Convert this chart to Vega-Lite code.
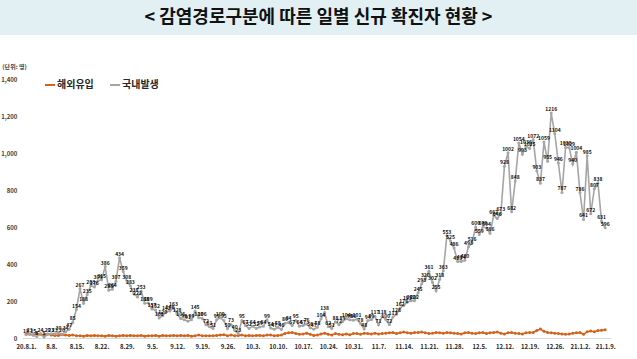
{
  "$schema": "https://vega.github.io/schema/vega-lite/v6.json",
  "padding": 0,
  "background": "white",
  "spacing": 28,
  "center": true,
  "config": {"view": {"stroke": null}, "font": "Noto Sans CJK KR"},
  "vconcat": [
    {
      "width": 637,
      "height": 35,
      "view": {"fill": "#E2F0F3", "stroke": null},
      "data": {"values": [{"t": "< 감염경로구분에 따른 일별 신규 확진자 현황 >"}]},
      "mark": {"type": "text", "fontSize": 18, "fontWeight": "bold", "font": "Noto Sans CJK KR", "color": "#111111", "baseline": "middle", "align": "center"},
      "encoding": {"text": {"field": "t", "type": "nominal"}}
    },
    {
      "width": 589,
      "height": 259,
      "data": {"values": [
        {"date": "2020-08-01", "해외유입": 22, "국내발생": 18},
        {"date": "2020-08-02", "해외유입": 20, "국내발생": 23},
        {"date": "2020-08-03", "해외유입": 18, "국내발생": 15},
        {"date": "2020-08-04", "해외유입": 24, "국내발생": 8},
        {"date": "2020-08-05", "해외유입": 20, "국내발생": 24},
        {"date": "2020-08-06", "해외유입": 18, "국내발생": 5},
        {"date": "2020-08-07", "해외유입": 22, "국내발생": 20},
        {"date": "2020-08-08", "해외유입": 16, "국내발생": 23},
        {"date": "2020-08-09", "해외유입": 14, "국내발생": 23},
        {"date": "2020-08-10", "해외유입": 14, "국내발생": 30},
        {"date": "2020-08-11", "해외유입": 18, "국내발생": 20},
        {"date": "2020-08-12", "해외유입": 16, "국내발생": 34},
        {"date": "2020-08-13", "해외유입": 14, "국내발생": 47},
        {"date": "2020-08-14", "해외유입": 16, "국내발생": 85},
        {"date": "2020-08-15", "해외유입": 12, "국내발생": 154},
        {"date": "2020-08-16", "해외유입": 12, "국내발생": 267},
        {"date": "2020-08-17", "해외유입": 10, "국내발생": 188},
        {"date": "2020-08-18", "해외유입": 14, "국내발생": 235},
        {"date": "2020-08-19", "해외유입": 12, "국내발생": 283},
        {"date": "2020-08-20", "해외유입": 14, "국내발생": 276},
        {"date": "2020-08-21", "해외유입": 12, "국내발생": 309},
        {"date": "2020-08-22", "해외유입": 12, "국내발생": 315},
        {"date": "2020-08-23", "해외유입": 10, "국내발생": 386},
        {"date": "2020-08-24", "해외유입": 14, "국내발생": 258},
        {"date": "2020-08-25", "해외유입": 12, "국내발생": 264},
        {"date": "2020-08-26", "해외유입": 10, "국내발생": 307},
        {"date": "2020-08-27", "해외유입": 12, "국내발생": 434},
        {"date": "2020-08-28", "해외유입": 14, "국내발생": 359},
        {"date": "2020-08-29", "해외유입": 12, "국내발생": 308},
        {"date": "2020-08-30", "해외유입": 14, "국내발생": 283},
        {"date": "2020-08-31", "해외유입": 12, "국내발생": 238},
        {"date": "2020-09-01", "해외유입": 12, "국내발생": 222},
        {"date": "2020-09-02", "해외유입": 14, "국내발생": 253},
        {"date": "2020-09-03", "해외유입": 10, "국내발생": 188},
        {"date": "2020-09-04", "해외유입": 12, "국내발생": 189},
        {"date": "2020-09-05", "해외유입": 12, "국내발생": 157},
        {"date": "2020-09-06", "해외유입": 14, "국내발생": 152},
        {"date": "2020-09-07", "해외유입": 10, "국내발생": 108},
        {"date": "2020-09-08", "해외유입": 14, "국내발생": 120},
        {"date": "2020-09-09", "해외유입": 12, "국내발생": 142},
        {"date": "2020-09-10", "해외유입": 12, "국내발생": 146},
        {"date": "2020-09-11", "해외유입": 14, "국내발생": 163},
        {"date": "2020-09-12", "해외유입": 12, "국내발생": 128},
        {"date": "2020-09-13", "해외유입": 14, "국내발생": 106},
        {"date": "2020-09-14", "해외유입": 12, "국내발생": 98},
        {"date": "2020-09-15", "해외유입": 14, "국내발생": 91},
        {"date": "2020-09-16", "해외유입": 10, "국내발생": 99},
        {"date": "2020-09-17", "해외유입": 12, "국내발생": 145},
        {"date": "2020-09-18", "해외유입": 16, "국내발생": 110},
        {"date": "2020-09-19", "해외유입": 12, "국내발생": 106},
        {"date": "2020-09-20", "해외유입": 12, "국내발생": 72},
        {"date": "2020-09-21", "해외유입": 12, "국내발생": 61},
        {"date": "2020-09-22", "해외유입": 12, "국내발생": 51},
        {"date": "2020-09-23", "해외유입": 14, "국내발생": 99},
        {"date": "2020-09-24", "해외유입": 16, "국내발생": 109},
        {"date": "2020-09-25", "해외유입": 18, "국내발생": 95},
        {"date": "2020-09-26", "해외유입": 12, "국내발생": 50},
        {"date": "2020-09-27", "해외유입": 16, "국내발생": 73},
        {"date": "2020-09-28", "해외유입": 12, "국내발생": 40},
        {"date": "2020-09-29", "해외유입": 14, "국내발생": 23},
        {"date": "2020-09-30", "해외유입": 16, "국내발생": 95},
        {"date": "2020-10-01", "해외유입": 12, "국내발생": 67},
        {"date": "2020-10-02", "해외유입": 14, "국내발생": 52},
        {"date": "2020-10-03", "해외유입": 12, "국내발생": 64},
        {"date": "2020-10-04", "해외유입": 14, "국내발생": 52},
        {"date": "2020-10-05", "해외유입": 14, "국내발생": 59},
        {"date": "2020-10-06", "해외유입": 12, "국내발생": 64},
        {"date": "2020-10-07", "해외유입": 16, "국내발생": 99},
        {"date": "2020-10-08", "해외유입": 16, "국내발생": 54},
        {"date": "2020-10-09", "해외유입": 12, "국내발생": 47},
        {"date": "2020-10-10", "해외유입": 14, "국내발생": 58},
        {"date": "2020-10-11", "해외유입": 16, "국내발생": 46},
        {"date": "2020-10-12", "해외유입": 24, "국내발생": 80},
        {"date": "2020-10-13", "해외유입": 28, "국내발생": 84},
        {"date": "2020-10-14", "해외유입": 30, "국내발생": 67},
        {"date": "2020-10-15", "해외유입": 24, "국내발생": 95},
        {"date": "2020-10-16", "해외유입": 20, "국내발생": 64},
        {"date": "2020-10-17", "해외유입": 22, "국내발생": 67},
        {"date": "2020-10-18", "해외유입": 26, "국내발생": 76},
        {"date": "2020-10-19", "해외유입": 20, "국내발생": 56},
        {"date": "2020-10-20", "해외유입": 14, "국내발생": 47},
        {"date": "2020-10-21", "해외유입": 16, "국내발생": 58},
        {"date": "2020-10-22", "해외유입": 22, "국내발생": 104},
        {"date": "2020-10-23", "해외유입": 26, "국내발생": 138},
        {"date": "2020-10-24", "해외유입": 20, "국내발생": 62},
        {"date": "2020-10-25", "해외유입": 16, "국내발생": 51},
        {"date": "2020-10-26", "해외유입": 24, "국내발생": 88},
        {"date": "2020-10-27", "해외유입": 20, "국내발생": 72},
        {"date": "2020-10-28", "해외유입": 18, "국내발생": 89},
        {"date": "2020-10-29", "해외유입": 22, "국내발생": 104},
        {"date": "2020-10-30", "해외유입": 18, "국내발생": 98},
        {"date": "2020-10-31", "해외유입": 24, "국내발생": 96},
        {"date": "2020-11-01", "해외유입": 24, "국내발생": 101},
        {"date": "2020-11-02", "해외유입": 20, "국내발생": 78},
        {"date": "2020-11-03", "해외유입": 26, "국내발생": 48},
        {"date": "2020-11-04", "해외유입": 24, "국내발생": 94},
        {"date": "2020-11-05", "해외유입": 22, "국내발생": 99},
        {"date": "2020-11-06", "해외유입": 26, "국내발생": 117},
        {"date": "2020-11-07", "해외유입": 22, "국내발생": 71},
        {"date": "2020-11-08", "해외유입": 24, "국내발생": 118},
        {"date": "2020-11-09", "해외유입": 26, "국내발생": 100},
        {"date": "2020-11-10", "해외유입": 28, "국내발생": 72},
        {"date": "2020-11-11", "해외유입": 30, "국내발생": 113},
        {"date": "2020-11-12", "해외유입": 24, "국내발생": 128},
        {"date": "2020-11-13", "해외유입": 28, "국내발생": 162},
        {"date": "2020-11-14", "해외유입": 32, "국내발생": 176},
        {"date": "2020-11-15", "해외유입": 28, "국내발생": 193},
        {"date": "2020-11-16", "해외유입": 26, "국내발생": 202},
        {"date": "2020-11-17", "해외유입": 30, "국내발생": 202},
        {"date": "2020-11-18", "해외유입": 30, "국내발생": 245},
        {"date": "2020-11-19", "해외유입": 32, "국내발생": 293},
        {"date": "2020-11-20", "해외유입": 28, "국내발생": 320},
        {"date": "2020-11-21", "해외유입": 24, "국내발생": 361},
        {"date": "2020-11-22", "해외유입": 26, "국내발생": 302},
        {"date": "2020-11-23", "해외유입": 30, "국내발생": 255},
        {"date": "2020-11-24", "해외유입": 28, "국내발생": 318},
        {"date": "2020-11-25", "해외유입": 26, "국내발생": 363},
        {"date": "2020-11-26", "해외유입": 30, "국내발생": 553},
        {"date": "2020-11-27", "해외유입": 28, "국내발생": 525},
        {"date": "2020-11-28", "해외유입": 26, "국내발생": 486},
        {"date": "2020-11-29", "해외유입": 24, "국내발생": 413},
        {"date": "2020-11-30", "해외유입": 22, "국내발생": 414},
        {"date": "2020-12-01", "해외유입": 28, "국내발생": 420},
        {"date": "2020-12-02", "해외유입": 30, "국내발생": 493},
        {"date": "2020-12-03", "해외유입": 26, "국내발생": 516},
        {"date": "2020-12-04", "해외유입": 24, "국내발생": 600},
        {"date": "2020-12-05", "해외유입": 28, "국내발생": 559},
        {"date": "2020-12-06", "해외유입": 30, "국내발생": 600},
        {"date": "2020-12-07", "해외유입": 24, "국내발생": 594},
        {"date": "2020-12-08", "해외유입": 28, "국내발생": 566},
        {"date": "2020-12-09", "해외유입": 30, "국내발생": 662},
        {"date": "2020-12-10", "해외유입": 32, "국내발생": 646},
        {"date": "2020-12-11", "해외유입": 26, "국내발생": 673},
        {"date": "2020-12-12", "해외유입": 22, "국내발생": 928},
        {"date": "2020-12-13", "해외유입": 28, "국내발생": 1002},
        {"date": "2020-12-14", "해외유입": 30, "국내발생": 682},
        {"date": "2020-12-15", "해외유입": 26, "국내발생": 848},
        {"date": "2020-12-16", "해외유입": 24, "국내발생": 1054},
        {"date": "2020-12-17", "해외유입": 22, "국내발생": 993},
        {"date": "2020-12-18", "해외유입": 28, "국내발생": 1036},
        {"date": "2020-12-19", "해외유입": 30, "국내발생": 1025},
        {"date": "2020-12-20", "해외유입": 30, "국내발생": 1072},
        {"date": "2020-12-21", "해외유입": 40, "국내발생": 903},
        {"date": "2020-12-22", "해외유입": 48, "국내발생": 837},
        {"date": "2020-12-23", "해외유입": 36, "국내발생": 1059},
        {"date": "2020-12-24", "해외유입": 30, "국내발생": 955},
        {"date": "2020-12-25", "해외유입": 28, "국내발생": 1216},
        {"date": "2020-12-26", "해외유입": 26, "국내발생": 1104},
        {"date": "2020-12-27", "해외유입": 24, "국내발생": 946},
        {"date": "2020-12-28", "해외유입": 22, "국내발생": 787},
        {"date": "2020-12-29", "해외유입": 20, "국내발생": 1030},
        {"date": "2020-12-30", "해외유입": 22, "국내발생": 1029},
        {"date": "2020-12-31", "해외유입": 26, "국내발생": 940},
        {"date": "2021-01-01", "해외유입": 28, "국내발생": 1004},
        {"date": "2021-01-02", "해외유입": 30, "국내발생": 786},
        {"date": "2021-01-03", "해외유입": 20, "국내발생": 641},
        {"date": "2021-01-04", "해외유입": 34, "국내발생": 985},
        {"date": "2021-01-05", "해외유입": 38, "국내발생": 672},
        {"date": "2021-01-06", "해외유입": 34, "국내발생": 807},
        {"date": "2021-01-07", "해외유입": 40, "국내발생": 838},
        {"date": "2021-01-08", "해외유입": 42, "국내발생": 631},
        {"date": "2021-01-09", "해외유입": 45, "국내발생": 596}
      ]},
      "transform": [{"fold": ["해외유입", "국내발생"], "as": ["key", "value"]}],
      "encoding": {
        "x": {
          "field": "date",
          "type": "temporal",
          "scale": {"type": "utc", "domain": [
            {"year": 2020, "month": 7, "date": 30, "hours": 20, "utc": true},
            {"year": 2021, "month": 1, "date": 10, "hours": 14, "utc": true}
          ]},
          "axis": {
            "title": null,
            "grid": false,
            "ticks": false,
            "domain": true,
            "domainColor": "#D9D9D9",
            "labelPadding": 5,
            "labelFontSize": 6,
            "labelFontWeight": "bold",
            "labelColor": "#262626",
            "labelOverlap": false,
            "labelFlush": false,
            "values": [
              {"year": 2020, "month": 8, "date": 1, "utc": true},
              {"year": 2020, "month": 8, "date": 8, "utc": true},
              {"year": 2020, "month": 8, "date": 15, "utc": true},
              {"year": 2020, "month": 8, "date": 22, "utc": true},
              {"year": 2020, "month": 8, "date": 29, "utc": true},
              {"year": 2020, "month": 9, "date": 5, "utc": true},
              {"year": 2020, "month": 9, "date": 12, "utc": true},
              {"year": 2020, "month": 9, "date": 19, "utc": true},
              {"year": 2020, "month": 9, "date": 26, "utc": true},
              {"year": 2020, "month": 10, "date": 3, "utc": true},
              {"year": 2020, "month": 10, "date": 10, "utc": true},
              {"year": 2020, "month": 10, "date": 17, "utc": true},
              {"year": 2020, "month": 10, "date": 24, "utc": true},
              {"year": 2020, "month": 10, "date": 31, "utc": true},
              {"year": 2020, "month": 11, "date": 7, "utc": true},
              {"year": 2020, "month": 11, "date": 14, "utc": true},
              {"year": 2020, "month": 11, "date": 21, "utc": true},
              {"year": 2020, "month": 11, "date": 28, "utc": true},
              {"year": 2020, "month": 12, "date": 5, "utc": true},
              {"year": 2020, "month": 12, "date": 12, "utc": true},
              {"year": 2020, "month": 12, "date": 19, "utc": true},
              {"year": 2020, "month": 12, "date": 26, "utc": true},
              {"year": 2021, "month": 1, "date": 2, "utc": true},
              {"year": 2021, "month": 1, "date": 9, "utc": true}
            ],
            "labelExpr": "(utcyear(datum.value) == 2021 || (utcmonth(datum.value) == 7 && utcdate(datum.value) == 1)) ? utcFormat(datum.value, '%y.%-m.%-d.') : utcFormat(datum.value, '%-m.%-d.')"
          }
        },
        "y": {
          "field": "value",
          "type": "quantitative",
          "scale": {"domain": [0, 1400], "nice": false},
          "axis": {
            "values": [0, 200, 400, 600, 800, 1000, 1200, 1400],
            "format": ",d",
            "grid": false,
            "ticks": false,
            "domain": false,
            "labelPadding": 5,
            "labelFontSize": 6,
            "labelFontWeight": "bold",
            "labelColor": "#404040",
            "title": "(단위: 명)",
            "titleAngle": 0,
            "titleAlign": "left",
            "titleBaseline": "middle",
            "titleX": -20,
            "titleY": -13,
            "titleFontSize": 6,
            "titleFontWeight": "bold",
            "titleColor": "#404040"
          }
        }
      },
      "layer": [
        {
          "mark": {"type": "line", "strokeWidth": 1.6, "point": {"filled": true, "size": 9}},
          "encoding": {
            "color": {
              "field": "key",
              "type": "nominal",
              "sort": ["해외유입", "국내발생"],
              "scale": {"domain": ["해외유입", "국내발생"], "range": ["#D2631A", "#A5A5A5"]},
              "legend": {
                "title": null,
                "orient": "none",
                "legendX": 44,
                "legendY": 79,
                "direction": "horizontal",
                "symbolType": "stroke",
                "symbolStrokeWidth": 2,
                "symbolSize": 100,
                "labelFontSize": 10,
                "labelFontWeight": "bold",
                "labelColor": "#262626",
                "labelOffset": 1,
                "columnPadding": 12
              }
            }
          }
        },
        {
          "transform": [{"filter": {"field": "key", "equal": "국내발생"}}],
          "mark": {"type": "text", "fontSize": 5, "fontWeight": "bold", "dy": -4, "color": "#111111"},
          "encoding": {"text": {"field": "value", "type": "quantitative"}}
        }
      ]
    }
  ]
}
